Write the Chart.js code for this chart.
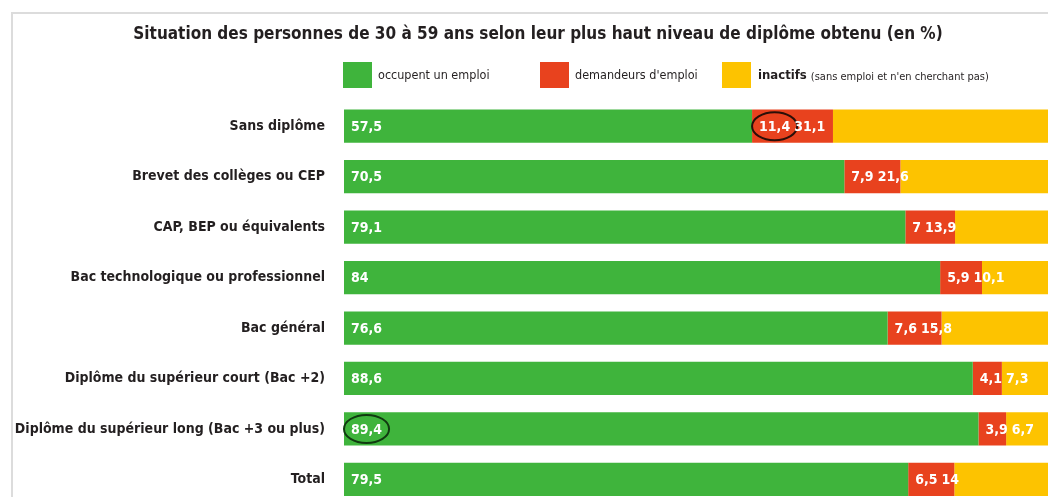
<!DOCTYPE html>
<html lang="fr">
<head>
<meta charset="utf-8">
<title>Situation des personnes de 30 à 59 ans</title>
<script src="https://cdn.jsdelivr.net/npm/chart.js@4"></script>
<style>
  html, body { margin: 0; padding: 0; background: #fff; overflow: hidden; }
  #cadre { width: 1048px; height: 524px; }
</style>
</head>
<body>
<div id="cadre"><canvas id="graphique" width="1048" height="524"></canvas></div>
<script>
// Niveaux de diplôme (axe vertical)
const diplomes = [
  'Sans diplôme',
  'Brevet des collèges ou CEP',
  'CAP, BEP ou équivalents',
  'Bac technologique ou professionnel',
  'Bac général',
  'Diplôme du supérieur court (Bac +2)',
  'Diplôme du supérieur long (Bac +3 ou plus)',
  'Total'
];
// Valeurs en %
const occupent = [57.5, 70.5, 79.1, 84, 76.6, 88.6, 89.4, 79.5];
const demandeurs = [11.4, 7.9, 7, 5.9, 7.6, 4.1, 3.9, 6.5];
const inactifs = [31.1, 21.6, 13.9, 10.1, 15.8, 7.3, 6.7, 14];
const series = ['occupent un emploi', 'demandeurs d\'emploi', 'inactifs'];
const couleurs = ['#3fb43c', '#e8421e', '#fdc300'];
const titre = 'Situation des personnes de 30 à 59 ans selon leur plus haut niveau de diplôme obtenu (en %)';

const police = "'DejaVu Sans Condensed', 'DejaVu Sans', sans-serif";
const policeEtroite = "'Liberation Sans Narrow', 'DejaVu Sans Condensed', sans-serif";

// Valeurs entourées à la main sur l'original : [ligne, série]
const entourees = [[0, 1], [6, 0]];

function fr(v) {
  return v.toLocaleString('fr-FR');
}

// Cadre gris, titre et légende dessinés à la main (le mot "inactifs" est en gras)
const cadreLegende = {
  id: 'cadreLegende',
  beforeDraw(chart) {
    const ctx = chart.ctx;
    ctx.save();
    ctx.fillStyle = '#ffffff';
    ctx.fillRect(0, 0, chart.width, chart.height);
    ctx.strokeStyle = '#dcdcdc';
    ctx.lineWidth = 2;
    ctx.beginPath();
    ctx.moveTo(12, chart.height);
    ctx.lineTo(12, 13);
    ctx.lineTo(chart.width, 13);
    ctx.stroke();
    ctx.restore();
  },
  afterDraw(chart) {
    const ctx = chart.ctx;
    ctx.save();
    ctx.textBaseline = 'middle';
    // titre
    ctx.fillStyle = '#231f20';
    ctx.textAlign = 'center';
    ctx.font = 'bold 17px ' + police;
    ctx.fillText(titre, 538, 35);
    ctx.textAlign = 'left';
    // légende
    const boites = [343, 540, 722];
    chart.data.datasets.forEach(function (ds, k) {
      const x = boites[k];
      ctx.fillStyle = ds.backgroundColor;
      ctx.fillRect(x, 62, 29, 26);
      ctx.fillStyle = '#231f20';
      if (k < 2) {
        ctx.font = '12.5px ' + policeEtroite;
        ctx.fillText(ds.label, x + 35, 76);
      } else {
        ctx.font = 'bold 13px ' + policeEtroite;
        ctx.fillText(ds.label, x + 36, 76);
        const w = ctx.measureText(ds.label).width;
        ctx.font = '11px ' + policeEtroite;
        ctx.fillText('(sans emploi et n\'en cherchant pas)', x + 36 + w + 4, 77);
      }
    });
    ctx.restore();
  }
};

// Étiquettes blanches dans les barres
const etiquettes = {
  id: 'etiquettes',
  afterDatasetsDraw(chart) {
    const ctx = chart.ctx;
    ctx.save();
    ctx.font = 'bold 14px ' + police;
    ctx.fillStyle = '#ffffff';
    ctx.textBaseline = 'middle';
    chart.data.labels.forEach(function (lab, i) {
      let finRouge = 0;
      chart.data.datasets.forEach(function (ds, k) {
        const barre = chart.getDatasetMeta(k).data[i];
        const texte = fr(ds.data[i]);
        let x;
        if (k < 2) x = barre.base + 7;
        else x = finRouge + 4;
        const w = ctx.measureText(texte).width;
        ctx.fillStyle = '#ffffff';
        ctx.fillText(texte, x, barre.y + 1);
        if (k === 1) finRouge = x + w;
        entourees.forEach(function (e) {
          if (e[0] === i && e[1] === k) {
            ctx.strokeStyle = k === 0 ? '#103a10' : '#2a0f08';
            ctx.lineWidth = 2;
            ctx.beginPath();
            ctx.ellipse(x + w / 2, barre.y, w / 2 + 7, 14, 0, 0, Math.PI * 2);
            ctx.stroke();
          }
        });
      });
    });
    ctx.restore();
  }
};

const graphique = new Chart(
  document.getElementById('graphique'),
  {
    type: 'bar',
    data: {
      labels: diplomes,
      datasets: [
        { label: series[0], data: occupent, backgroundColor: couleurs[0] },
        { label: series[1], data: demandeurs, backgroundColor: couleurs[1] },
        { label: series[2], data: inactifs, backgroundColor: couleurs[2] }
      ]
    },
    options: {
      indexAxis: 'y',
      responsive: false,
      animation: false,
      layout: { padding: { left: 12, right: 0, top: 101, bottom: 0 } },
      datasets: {
        bar: { categoryPercentage: 1, barPercentage: 0.66, borderWidth: 0 }
      },
      scales: {
        x: {
          stacked: true,
          min: 0,
          max: 99.2,
          display: false
        },
        y: {
          stacked: true,
          grid: { display: false },
          border: { display: false },
          ticks: {
            padding: 11,
            color: '#231f20',
            font: { family: police, size: 14, weight: 'bold' }
          },
          afterFit(scale) { scale.width = 332; }
        }
      },
      plugins: {
        legend: { display: false },
        tooltip: { enabled: false },
        title: { display: false }
      }
    },
    plugins: [cadreLegende, etiquettes]
  }
);
</script>
</body>
</html>
